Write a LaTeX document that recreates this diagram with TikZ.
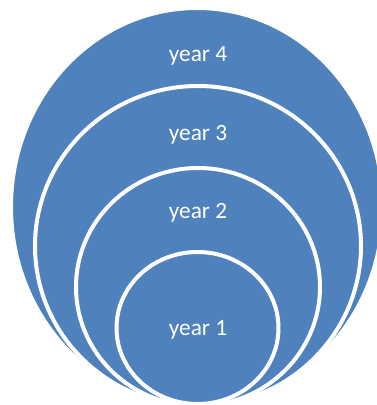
\documentclass[tikz,border=0pt]{standalone}
\usepackage{fontspec}
\setmainfont{Carlito}
\usetikzlibrary{shapes.geometric}
\definecolor{yearblue}{HTML}{4F81BD}
\begin{document}
\begin{tikzpicture}[x=0.75pt,y=0.75pt,
  ring/.style={ellipse,draw=white,line width=3pt,fill=yearblue,inner sep=0pt},
  yearlbl/.style={text=white,font=\fontsize{17.5}{20}\selectfont}]
  \useasboundingbox (0,0) rectangle (377,405);
  \clip (0,0) rectangle (377,405);
  % nested years, outermost first (sizes in pt)
  \node[ring,minimum width=279pt,minimum height=298.5pt] (y4) at (197,198) {};
  \node[ring,minimum width=244.5pt,minimum height=240pt] (y3) at (198,159) {};
  \node[ring,minimum width=183pt,minimum height=178.5pt] (y2) at (198,118) {};
  \node[ring,minimum width=121.5pt,minimum height=114pt] (y1) at (197.5,77) {};
  \node[yearlbl] (l4) at (198,349) {year 4};
  \node[yearlbl] (l3) at (198,270) {year 3};
  \node[yearlbl] (l2) at (198,192) {year 2};
  \node[yearlbl] (l1) at (198,75) {year 1};
\end{tikzpicture}
\end{document}
